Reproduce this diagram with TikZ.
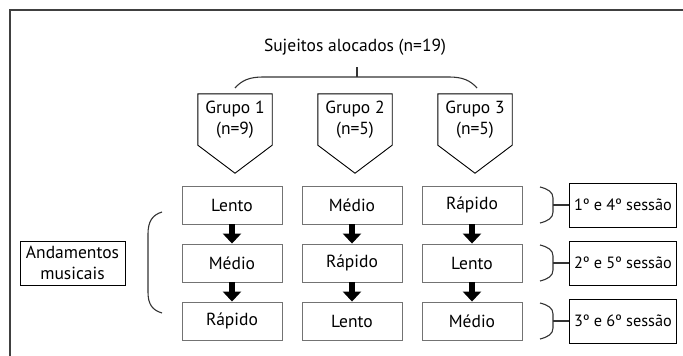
\documentclass[tikz,border=0pt]{standalone}
\usepackage{fontspec}
\setmainfont{PT Sans}
\usetikzlibrary{calc,arrows.meta}
\begin{document}
\begin{tikzpicture}[x=1pt,y=-1pt,
  txt/.style={font=\fontsize{17.5}{21}\selectfont},
  rowbox/.style={txt, draw=black!55, line width=0.9pt, minimum width=100pt, minimum height=38pt, inner sep=0pt},
  grp/.style={txt, minimum width=74pt, minimum height=51pt, inner sep=0pt, align=center},
  sess/.style={font=\fontsize{16.3}{20}\selectfont, draw=black, line width=0.9pt, minimum width=107pt, minimum height=44pt, inner sep=0pt},
  bigarrow/.style={line width=6.5pt, -{Triangle[width=18pt,length=10pt]}},
  brace/.style={draw=black!80, line width=1.1pt},
  pent/.style={draw=black, line width=0.9pt},
]
\useasboundingbox (0,0) rectangle (683,356);
\draw[line width=1.5pt, draw=black!75] (683,10) -- (10,10) -- (10,356);

% title
\node[txt] (title) at (355,47) {Sujeitos alocados (n=19)};
\coordinate (tb1) at (357,67);
\coordinate (tb2) at (357,77);
\draw[brace] (tb1) -- (tb2);
\draw[brace] (235,88) .. controls (242,80) and (250,77) .. (263,77) -- (449,77) .. controls (462,77) and (470,80) .. (477,88);

% groups
\foreach \n/\x/\k in {g1/235/9, g2/355/5, g3/475/5}{
  \node[grp] (\n) at (\x,119.5) {Grupo \ifnum\x=235 1\else\ifnum\x=355 2\else 3\fi\fi\\(n=\k)};
  \draw[pent] (\n.north west) -- (\n.north east) -- (\n.south east) -- ($(\n.south)+(0,28)$) -- (\n.south west) -- cycle;
}

% rows
\node[rowbox] (a1) at (232,205) {Lento};
\node[rowbox] (a2) at (232,263) {Médio};
\node[rowbox] (a3) at (232,321) {Rápido};
\node[rowbox] (b1) at (352,205) {Médio};
\node[rowbox] (b2) at (352,263) {Rápido};
\node[rowbox] (b3) at (352,321) {Lento};
\node[rowbox] (c1) at (472,205) {Rápido};
\node[rowbox] (c2) at (472,263) {Lento};
\node[rowbox] (c3) at (472,321) {Médio};

\foreach \p/\q in {a1/a2, a2/a3, b1/b2, b2/b3, c1/c2, c2/c3}{
  \draw[bigarrow] (\p.south) -- (\q.north);
}

% left label
\node[txt, draw=black, line width=0.9pt, minimum width=105pt, minimum height=44pt, inner sep=0pt, align=center] (and) at (72.5,263) {Andamentos\\musicais};
\draw[brace] (162,212) .. controls (152,215) and (148,222) .. (148,234) -- (148,292) .. controls (148,304) and (152,310) .. (162,313);

% sessions
\node[sess] (s1) at (623,205) {1º e 4º sessão};
\node[sess] (s2) at (623,263) {2º e 5º sessão};
\node[sess] (s3) at (623,321) {3º e 6º sessão};
\foreach \s/\c in {s1/205, s2/263, s3/321}{
  \coordinate (m\s) at (553,\c);
  \draw[brace] (540,\c-18) .. controls (548,\c-16) and (553,\c-13) .. (553,\c-7) -- (553,\c+7) .. controls (553,\c+13) and (548,\c+16) .. (540,\c+18);
  \draw[brace] (m\s) -- (\s.west);
}
\end{tikzpicture}
\end{document}
